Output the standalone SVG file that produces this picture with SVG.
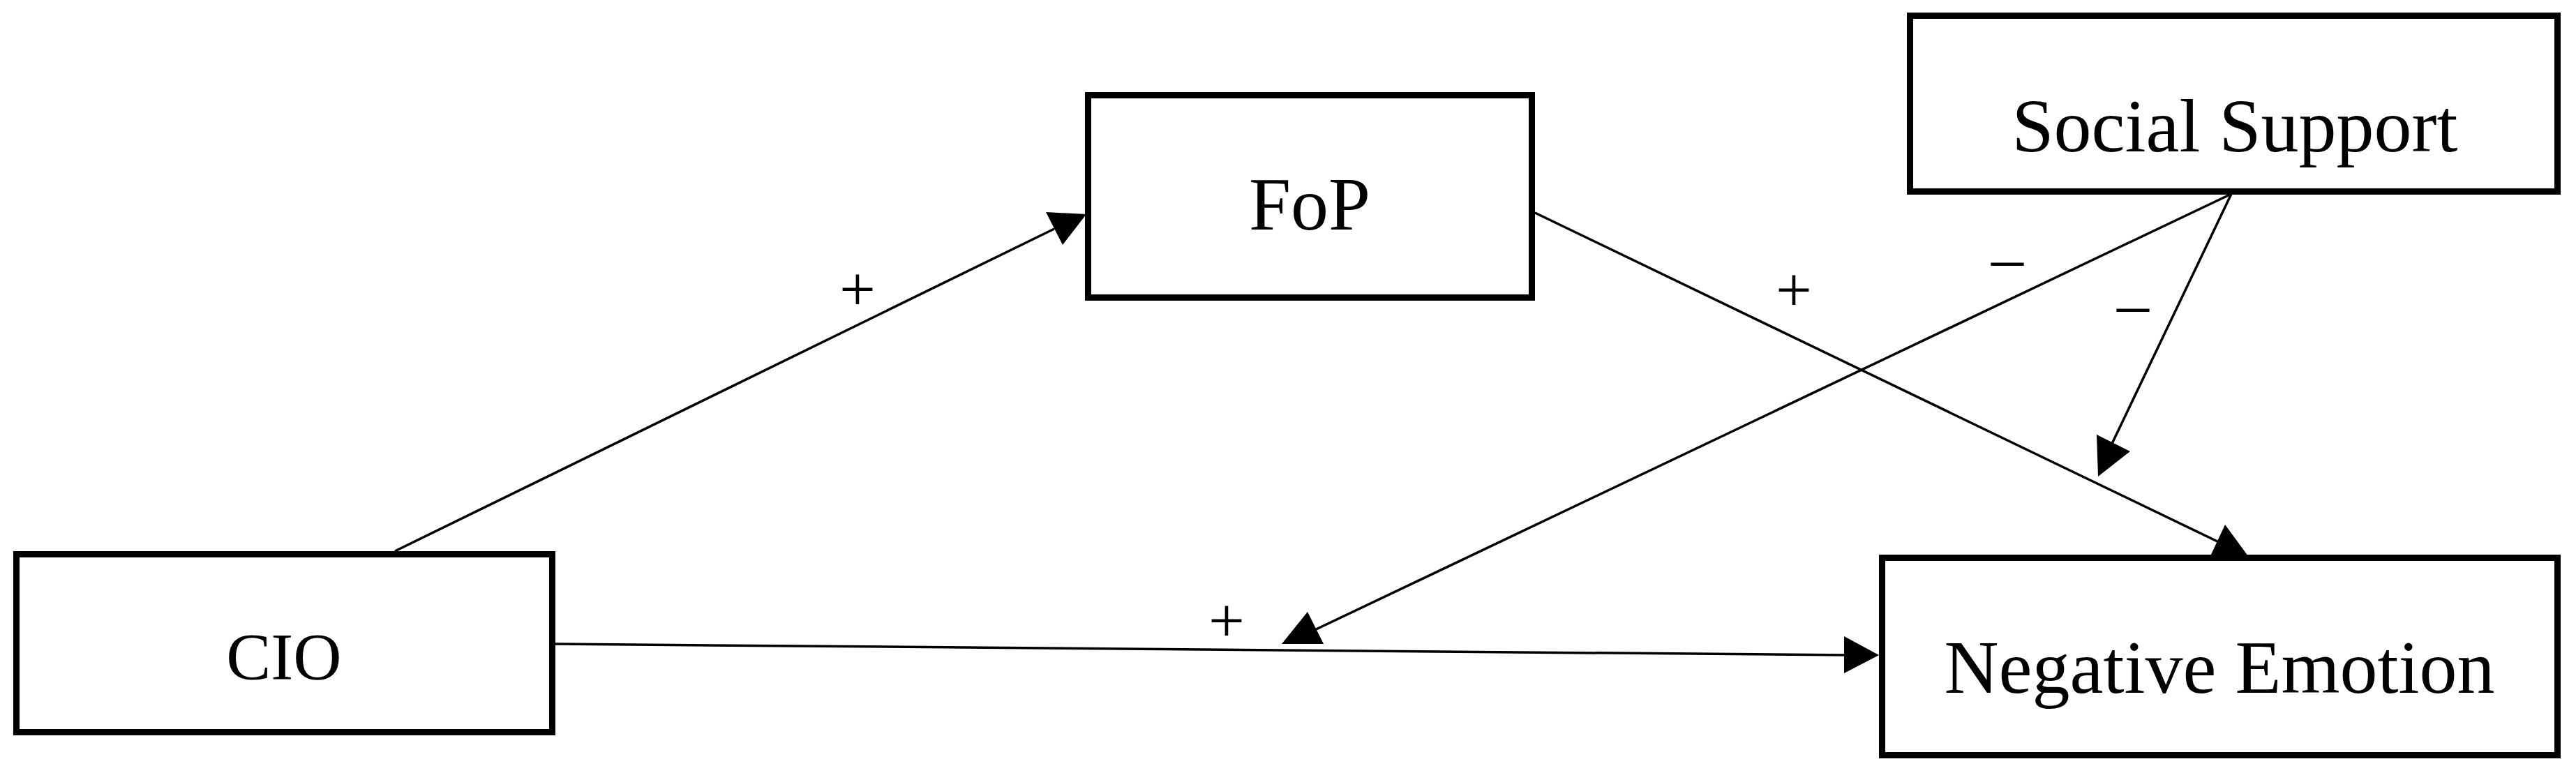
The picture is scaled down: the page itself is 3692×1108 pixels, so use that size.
<svg xmlns="http://www.w3.org/2000/svg" width="3692" height="1108" viewBox="0 0 3692 1108">
<style>
.box{fill:#fff;stroke:#000;stroke-width:9}
.lbl{font-family:"Liberation Serif","Times New Roman",serif;font-size:108px;fill:#000;text-anchor:middle}
.sign{font-family:"Liberation Serif","Times New Roman",serif;font-size:92px;fill:#000;text-anchor:middle}
.edge{stroke:#000;stroke-width:3.5;fill:none}
.head{fill:#000;stroke:none}
</style>
<rect width="3692" height="1108" fill="#fff"/>
<g id="connectors">
<line class="edge" x1="566" y1="790" x2="1511" y2="328"/>
<polygon class="head" points="1499,304 1557,307 1523,351"/>
<line class="edge" x1="2200" y1="305" x2="3180" y2="777"/>
<polygon class="head" points="3189,752 3168,797 3222,797"/>
<line class="edge" x1="796" y1="923" x2="2650" y2="939"/>
<polygon class="head" points="2643,912 2643,965 2693,939"/>
<line class="edge" x1="3198" y1="278" x2="1880" y2="905"/>
<polygon class="head" points="1874,877 1837,923 1897,923"/>
<line class="edge" x1="3198" y1="278" x2="3025" y2="640"/>
<polygon class="head" points="3005,623 3053,647 3007,683"/>
<text class="sign" x="1229" y="445">+</text>
<text class="sign" x="2571" y="446">+</text>
<text class="sign" x="1758" y="920">+</text>
<text class="sign" x="2877" y="400">–</text>
<text class="sign" x="3057" y="466">–</text>
</g>
<g id="node-fop">
<rect class="box" x="1559.5" y="136.5" width="636" height="290"/>
<text class="lbl" x="1877" y="329">FoP</text>
</g>
<g id="node-social-support">
<rect class="box" x="2737.5" y="22.5" width="928" height="252"/>
<text class="lbl" x="3203" y="217">Social Support</text>
</g>
<g id="node-cio">
<rect class="box" x="23.5" y="794.5" width="768" height="255"/>
<text class="lbl" x="407" y="974" style="font-size:96px">CIO</text>
</g>
<g id="node-negative-emotion">
<rect class="box" x="2697.5" y="799.5" width="968" height="283"/>
<text class="lbl" x="3181" y="993">Negative Emotion</text>
</g>
</svg>
